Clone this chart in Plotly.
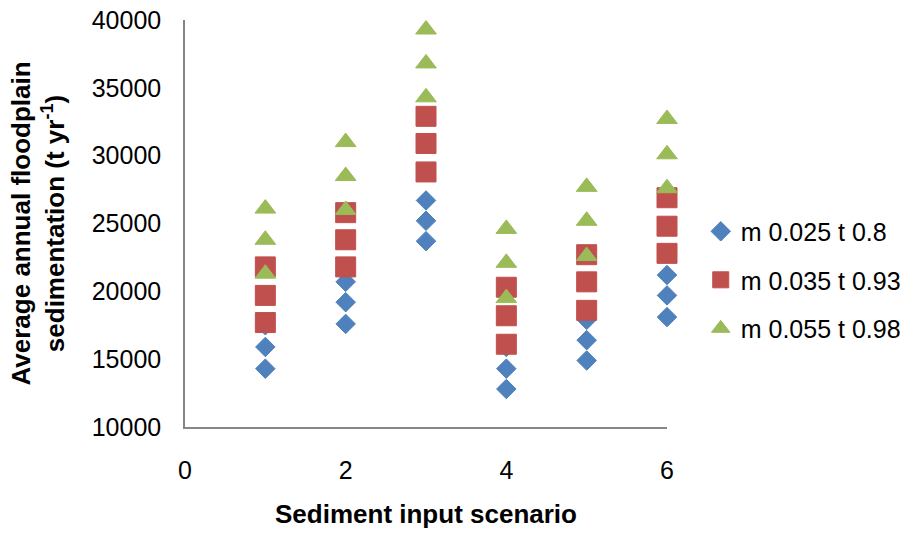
import plotly.graph_objects as go

# Sediment input scenarios (x axis)
scenarios = [1, 2, 3, 4, 5, 6]

# Three model runs per scenario for each parameter set (t/yr)
m025_t080 = [[14300, 15900, 17500], [17600, 19200, 20700], [23700, 25200, 26700],
             [12800, 14300, 15900], [14900, 16400, 17900], [18100, 19700, 21200]]
m035_t093 = [[17700, 19700, 21800], [21800, 23800, 25800], [28800, 30900, 32900],
             [16100, 18200, 20300], [18600, 20700, 22700], [22800, 24800, 26900]]
m055_t098 = [[21300, 23800, 26100], [26000, 28500, 31000], [34300, 36800, 39300],
             [19500, 22100, 24600], [22600, 25200, 27700], [27600, 30100, 32700]]

series_names = ["m 0.025 t 0.8", "m 0.035 t 0.93", "m 0.055 t 0.98"]
x_ticks = [0, 2, 4, 6]
y_ticks = [10000, 15000, 20000, 25000, 30000, 35000, 40000]

FONT = "Liberation Sans, Arial, sans-serif"
styles = [
    dict(symbol="diamond", size=15, color="#4F81BD"),
    dict(symbol="square", size=20, color="#C0504D"),
    dict(symbol="triangle-up", size=18, color="#9BBB59"),
]


def flatten(values):
    xs, ys = [], []
    for sc, runs in zip(scenarios, values):
        for v in runs:
            xs.append(sc)
            ys.append(v)
    return xs, ys


fig = go.Figure()
for name, values, st in zip(series_names, [m025_t080, m035_t093, m055_t098], styles):
    xs, ys = flatten(values)
    fig.add_trace(go.Scatter(
        x=xs, y=ys, mode="markers", name=name, legendgroup=name,
        cliponaxis=False,
        marker=dict(symbol=st["symbol"], size=st["size"], color=st["color"],
                    line=dict(width=1, color=st["color"])),
    ))

axis_color = "#868686"
fig.update_layout(
    width=909, height=537,
    margin=dict(l=185, r=242, t=20, b=110, autoexpand=False),
    paper_bgcolor="white", plot_bgcolor="white",
    font=dict(family=FONT, size=25, color="black"),
    showlegend=True,
    legend=dict(x=1.07, xanchor="left", y=0.361, yanchor="middle",
                font=dict(family=FONT, size=25, color="black"),
                tracegroupgap=13, itemwidth=30, bgcolor="rgba(0,0,0,0)"),
    xaxis=dict(range=[0, 6], tickvals=x_ticks, showgrid=False, zeroline=False,
               showline=True, linecolor=axis_color, linewidth=1.5,
               ticks="", ticklabelstandoff=20,
               tickfont=dict(family=FONT, size=25),
               title=dict(text="<b>Sediment input scenario</b>", standoff=22,
                          font=dict(family=FONT, size=26))),
    yaxis=dict(range=[10000, 40000], tickvals=y_ticks, tickformat="d",
               showgrid=False, zeroline=False,
               showline=True, linecolor=axis_color, linewidth=1.5,
               ticks="", ticklabelstandoff=17,
               tickfont=dict(family=FONT, size=25)),
    annotations=[dict(
        text="<b>Average annual floodplain<br>sedimentation (t yr<sup>-1</sup>)</b>",
        xref="paper", yref="paper", x=-0.305, y=0.50,
        xanchor="center", yanchor="middle", textangle=-90, showarrow=False,
        font=dict(family=FONT, size=26, color="black"),
    )],
)

fig.write_html("out.html")
